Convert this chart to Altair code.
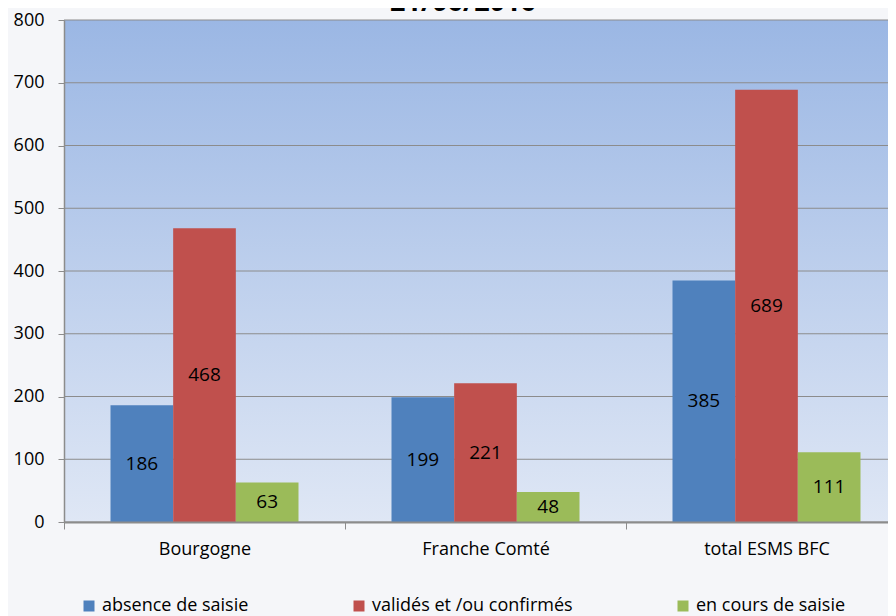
import altair as alt
import pandas as pd

categories = ["Bourgogne", "Franche Comté", "total ESMS BFC"]
series = ["absence de saisie", "validés et /ou confirmés", "en cours de saisie"]
absence = [186, 199, 385]
valides = [468, 221, 689]
en_cours = [63, 48, 111]
colors = ["#4F81BD", "#C0504D", "#9BBB59"]
y_ticks = [0, 100, 200, 300, 400, 500, 600, 700, 800]

rows = []
for i, c in enumerate(categories):
    for s, vals in zip(series, [absence, valides, en_cours]):
        rows.append({"cat": c, "serie": s, "value": vals[i]})
df = pd.DataFrame(rows)
grid_df = pd.DataFrame({"tick": y_ticks})
bg_df = pd.DataFrame({"a": [0]})

W, H = 824, 502
FONT = "Open Sans"

x_enc = alt.X(
    "cat:N", sort=categories,
    scale=alt.Scale(range=[0, 843], paddingInner=0, paddingOuter=0),
    axis=alt.Axis(title=None, tickBand="extent", grid=False, domainColor="#8c8c8c",
                  domainWidth=2, tickColor="#8c8c8c", tickSize=7, labelFontSize=18,
                  labelPadding=11, labelAngle=0, labelFont=FONT, labelColor="black",
                  zindex=1),
)
xoff_enc = alt.XOffset("serie:N", sort=series,
                       scale=alt.Scale(paddingInner=0, paddingOuter=0.742))
y_scale = alt.Scale(domain=[0, 800], nice=False)

gradient = alt.LinearGradient(
    gradient="linear",
    stops=[alt.GradientStop(color="#9bb7e4", offset=0),
           alt.GradientStop(color="#dfe7f5", offset=1)],
    x1=0, x2=0, y1=0, y2=1,
)

bg = alt.Chart(bg_df).mark_rect(color=gradient).encode(
    x=alt.value(0), x2=alt.value(W), y=alt.value(0), y2=alt.value(H)
)

grid = alt.Chart(grid_df).mark_rule(color="#8c8c8c", strokeWidth=1).encode(
    y=alt.Y("tick:Q", scale=y_scale,
            axis=alt.Axis(values=y_ticks, title=None, grid=False, domainColor="#8c8c8c",
                          domainWidth=1.5, tickColor="#8c8c8c", tickSize=6,
                          labelFontSize=18, labelPadding=14, labelFont=FONT,
                          labelColor="black", zindex=1))
)

bars = alt.Chart(df).mark_bar().encode(
    x=x_enc,
    xOffset=xoff_enc,
    y=alt.Y("value:Q", scale=y_scale),
    color=alt.Color(
        "serie:N", sort=series,
        scale=alt.Scale(domain=series, range=colors),
        legend=alt.Legend(title=None, orient="none", legendX=16, legendY=577,
                          direction="horizontal", symbolType="square", symbolSize=121,
                          symbolStrokeWidth=0, symbolOpacity=1, labelFontSize=18,
                          labelFont=FONT, labelColor="black", labelOffset=4,
                          columnPadding=101, labelLimit=400),
    ),
)

labels = alt.Chart(df).transform_calculate(mid="datum.value / 2").mark_text(
    fontSize=19, font=FONT, color="black", baseline="middle", align="center"
).encode(
    x=x_enc,
    xOffset=xoff_enc,
    y=alt.Y("mid:Q", scale=y_scale),
    text=alt.Text("value:Q"),
)

chart = alt.layer(bg, grid, bars, labels).properties(
    width=W, height=H,
    title=alt.TitleParams(text="21/06/2016", fontSize=27, fontWeight="bold", font=FONT,
                          anchor="middle", frame="group", baseline="alphabetic",
                          offset=-27, dx=-13, color="black"),
    autosize=alt.AutoSizeParams(type="none"),
    padding={"left": 56, "top": 12, "right": 0, "bottom": 94},
    background="#f5f6f9",
).configure_view(stroke="transparent")

chart.save("out.html", embed_options={"renderer": "svg", "actions": False})
